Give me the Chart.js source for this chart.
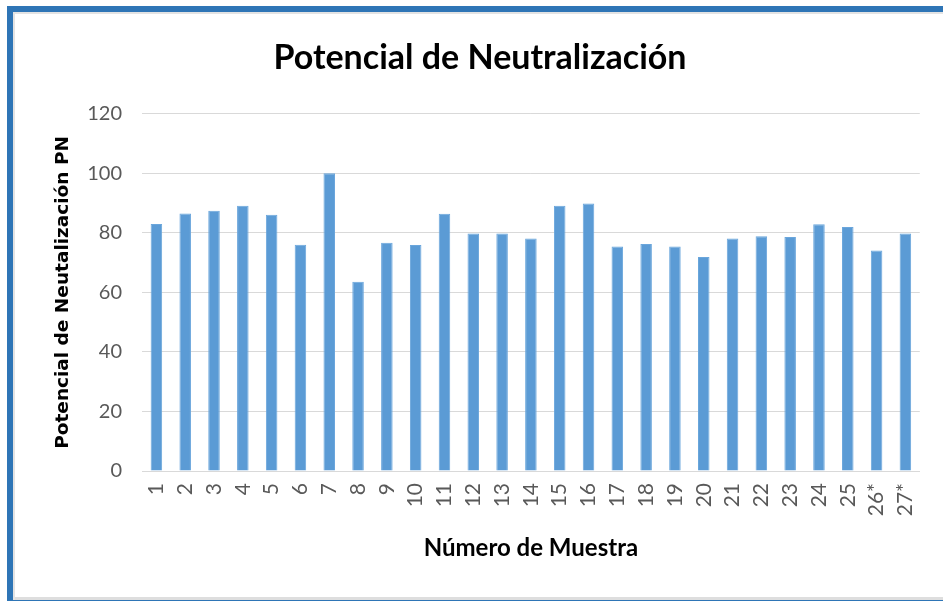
<!DOCTYPE html>
<html>
<head>
<meta charset="utf-8">
<script src="https://cdn.jsdelivr.net/npm/chart.js@4"></script>
<style>
    html, body { margin: 0; padding: 0; background: #ffffff; width: 943px; height: 601px; overflow: hidden; }
    .frame {
        position: absolute; left: 7px; top: 6px; width: 950px; height: 588px;
        border-top: 6px solid #2E75B6; border-left: 6px solid #2E75B6; border-bottom: 3px solid #2E75B6;
        box-shadow: inset 2px 2px 0 #e3e3e3, inset 0 -3px 0 #dedede;
        background: #ffffff;
    }
    canvas { position: absolute; left: 13px; top: 12px; }
</style>
</head>
<body>
<div class="frame"></div>
<canvas id="chart" width="930" height="583"></canvas>
<script>
// categorias (numero de muestra)
var muestras = ['1', '2', '3', '4', '5', '6', '7', '8', '9', '10', '11', '12', '13', '14',
    '15', '16', '17', '18', '19', '20', '21', '22', '23', '24', '25', '26*', '27*'];

// potencial de neutralizacion PN
var valoresPN = [83, 86.5, 87.4, 89.1, 86.1, 76, 100, 63.6, 76.7, 75.9, 86.4, 79.8, 79.8, 78.1,
    89.1, 89.9, 75.4, 76.3, 75.4, 71.9, 78.1, 78.9, 78.6, 82.9, 82, 74.1, 79.8];

var yTicks = [0, 20, 40, 60, 80, 100, 120];

var tickColor = '#595959';
var gridColor = '#d9d9d9';

var ctx = document.getElementById('chart');
var myChart = new Chart(ctx, {
    type: 'bar',
    data: {
        labels: muestras,
        datasets: [{
            label: 'PN',
            data: valoresPN,
            backgroundColor: '#5B9BD5',
            borderColor: '#6aa6dc',
            borderWidth: 1,
            categoryPercentage: 1.0,
            barPercentage: 0.4
        }]
    },
    options: {
        responsive: false,
        animation: false,
        layout: { padding: { top: 26, right: 22, bottom: 32, left: 26 } },
        plugins: {
            legend: { display: false },
            tooltip: { enabled: false },
            title: {
                display: true,
                text: 'Potencial de Neutralización',
                color: '#000000',
                font: { family: 'Lato', size: 34, weight: 'bold' },
                padding: { top: 0, bottom: 35 }
            }
        },
        scales: {
            x: {
                afterFit: function (axis) { axis.height = 92; },
                grid: { display: false, drawTicks: false },
                border: { display: true, color: gridColor, width: 1 },
                ticks: {
                    color: tickColor,
                    font: { family: 'Lato', size: 21 },
                    minRotation: 90,
                    maxRotation: 90,
                    padding: 12,
                    autoSkip: false
                },
                title: {
                    display: true,
                    text: 'Número de Muestra',
                    color: '#000000',
                    font: { family: 'Lato', size: 24, weight: 'bold' },
                    padding: { top: 14, bottom: 0 }
                }
            },
            y: {
                min: 0,
                max: 120,
                afterFit: function (axis) { axis.width = 103; },
                afterBuildTicks: function (axis) {
                    axis.ticks = yTicks.map(function (v) { return { value: v }; });
                },
                grid: { color: gridColor, lineWidth: 1, drawTicks: false },
                border: { display: false },
                ticks: {
                    color: tickColor,
                    font: { family: 'Lato', size: 20 },
                    padding: 20
                },
                title: {
                    display: true,
                    text: 'Potencial de Neutalización PN',
                    color: '#000000',
                    font: { family: 'DejaVu Sans', size: 18.5, weight: 'bold' },
                    padding: { top: 13, bottom: 0 }
                }
            }
        }
    }
});
</script>
</body>
</html>
